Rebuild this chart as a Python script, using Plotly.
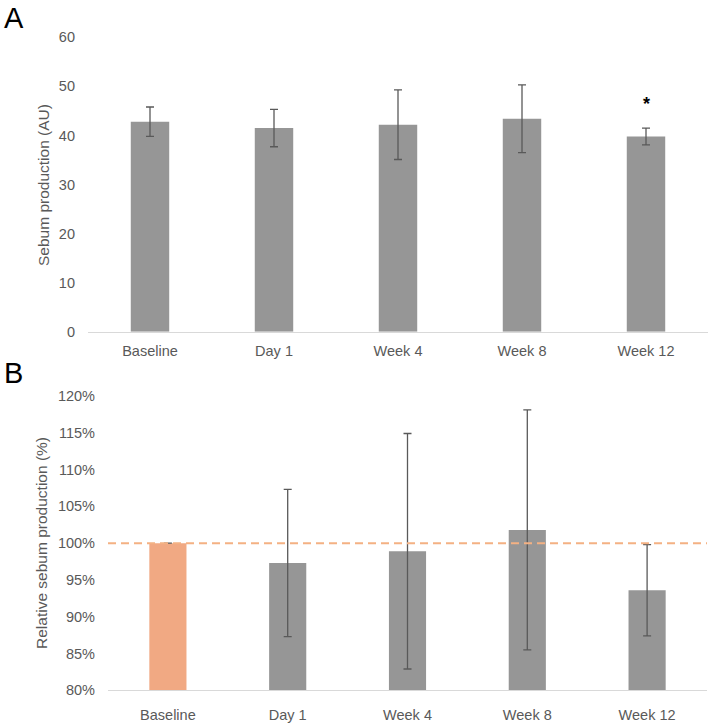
import plotly.graph_objects as go

categories = ["Baseline", "Day 1", "Week 4", "Week 8", "Week 12"]

# Panel A: absolute sebum production (AU)
sebum_mean = [42.8, 41.5, 42.2, 43.4, 39.8]
sebum_err = [3.0, 3.8, 7.1, 6.9, 1.7]

# Panel B: relative sebum production (%)
rel_mean = [100.0, 97.3, 98.9, 101.8, 93.6]
rel_err = [None, 10.0, 16.0, 16.3, 6.2]

y_ticks_a = [0, 10, 20, 30, 40, 50, 60]
y_ticks_b = [80, 85, 90, 95, 100, 105, 110, 115, 120]
y_ticklabels_b = [f"{v}%" for v in y_ticks_b]

GRAY = "#969696"
ORANGE = "#F1A983"
DASH = "#F4B183"
ERR = "#595959"
TXT = "#595959"
FONT = "Liberation Sans, Arial, sans-serif"

W, H = 709, 726

fig = go.Figure()

fig.add_trace(go.Bar(
    x=categories, y=sebum_mean, width=0.31,
    marker=dict(color=GRAY, line=dict(width=0)),
    error_y=dict(type="data", array=sebum_err, color=ERR, thickness=1.3, width=4),
    xaxis="x", yaxis="y", showlegend=False,
))

fig.add_trace(go.Bar(
    x=categories, y=rel_mean, width=0.31,
    marker=dict(color=[ORANGE] + [GRAY] * 4, line=dict(width=0)),
    error_y=dict(type="data", array=rel_err, color=ERR, thickness=1.3, width=4),
    xaxis="x2", yaxis="y2", showlegend=False,
))

axis_common = dict(
    showgrid=False, zeroline=False,
    tickfont=dict(family=FONT, size=14.5, color=TXT),
)

fig.update_layout(
    width=W, height=H,
    margin=dict(l=0, r=0, t=0, b=0),
    paper_bgcolor="white", plot_bgcolor="white",
    font=dict(family=FONT, color=TXT),
    xaxis=dict(domain=[88 / W, 708 / W], anchor="y",
               showline=True, linecolor="#d9d9d9", linewidth=1,
               ticks="", ticklabelstandoff=6, **axis_common),
    yaxis=dict(domain=[1 - 331 / H, 1 - 30 / H], anchor="x",
               range=[0, 60], tickvals=y_ticks_a, showline=False,
               ticks="", ticklabelstandoff=12, **axis_common),
    xaxis2=dict(domain=[108 / W, 707 / W], anchor="y2",
                showline=True, linecolor="#d9d9d9", linewidth=1,
                ticks="", ticklabelstandoff=11, **axis_common),
    yaxis2=dict(domain=[1 - 697.7 / H, 1 - 396.7 / H], anchor="x2",
                range=[80, 120], tickvals=y_ticks_b, ticktext=y_ticklabels_b,
                showline=False, ticks="", ticklabelstandoff=12, **axis_common),
)

# dashed 100% reference line
fig.add_shape(type="line", xref="x2 domain", yref="y2",
              x0=0, x1=1, y0=100, y1=100,
              line=dict(color=DASH, width=2, dash="8px,5px"), layer="above")

# significance asterisk above Week 12
fig.add_annotation(x="Week 12", y=sebum_mean[4] + sebum_err[4], xref="x", yref="y",
                   text="<b>*</b>", showarrow=False, yanchor="bottom", yshift=12,
                   font=dict(family=FONT, size=18, color="black"))

# y-axis titles
fig.add_annotation(x=43 / W, y=1 - 181 / H, xref="paper", yref="paper",
                   xanchor="center", yanchor="middle",
                   text="Sebum production (AU)", textangle=-90, showarrow=False,
                   font=dict(family=FONT, size=15.5, color=TXT))
fig.add_annotation(x=42 / W, y=1 - 547 / H, xref="paper", yref="paper",
                   xanchor="center", yanchor="middle",
                   text="Relative sebum production (%)", textangle=-90, showarrow=False,
                   font=dict(family=FONT, size=15.5, color=TXT))

# panel letters
fig.add_annotation(x=2 / W, y=1 + 8 / H, xref="paper", yref="paper",
                   text="A", showarrow=False, xanchor="left", yanchor="top",
                   font=dict(family=FONT, size=29, color="black"))
fig.add_annotation(x=2 / W, y=1 - 355 / H, xref="paper", yref="paper",
                   text="B", showarrow=False, xanchor="left", yanchor="top",
                   font=dict(family=FONT, size=29, color="black"))

fig.write_html("out.html")
